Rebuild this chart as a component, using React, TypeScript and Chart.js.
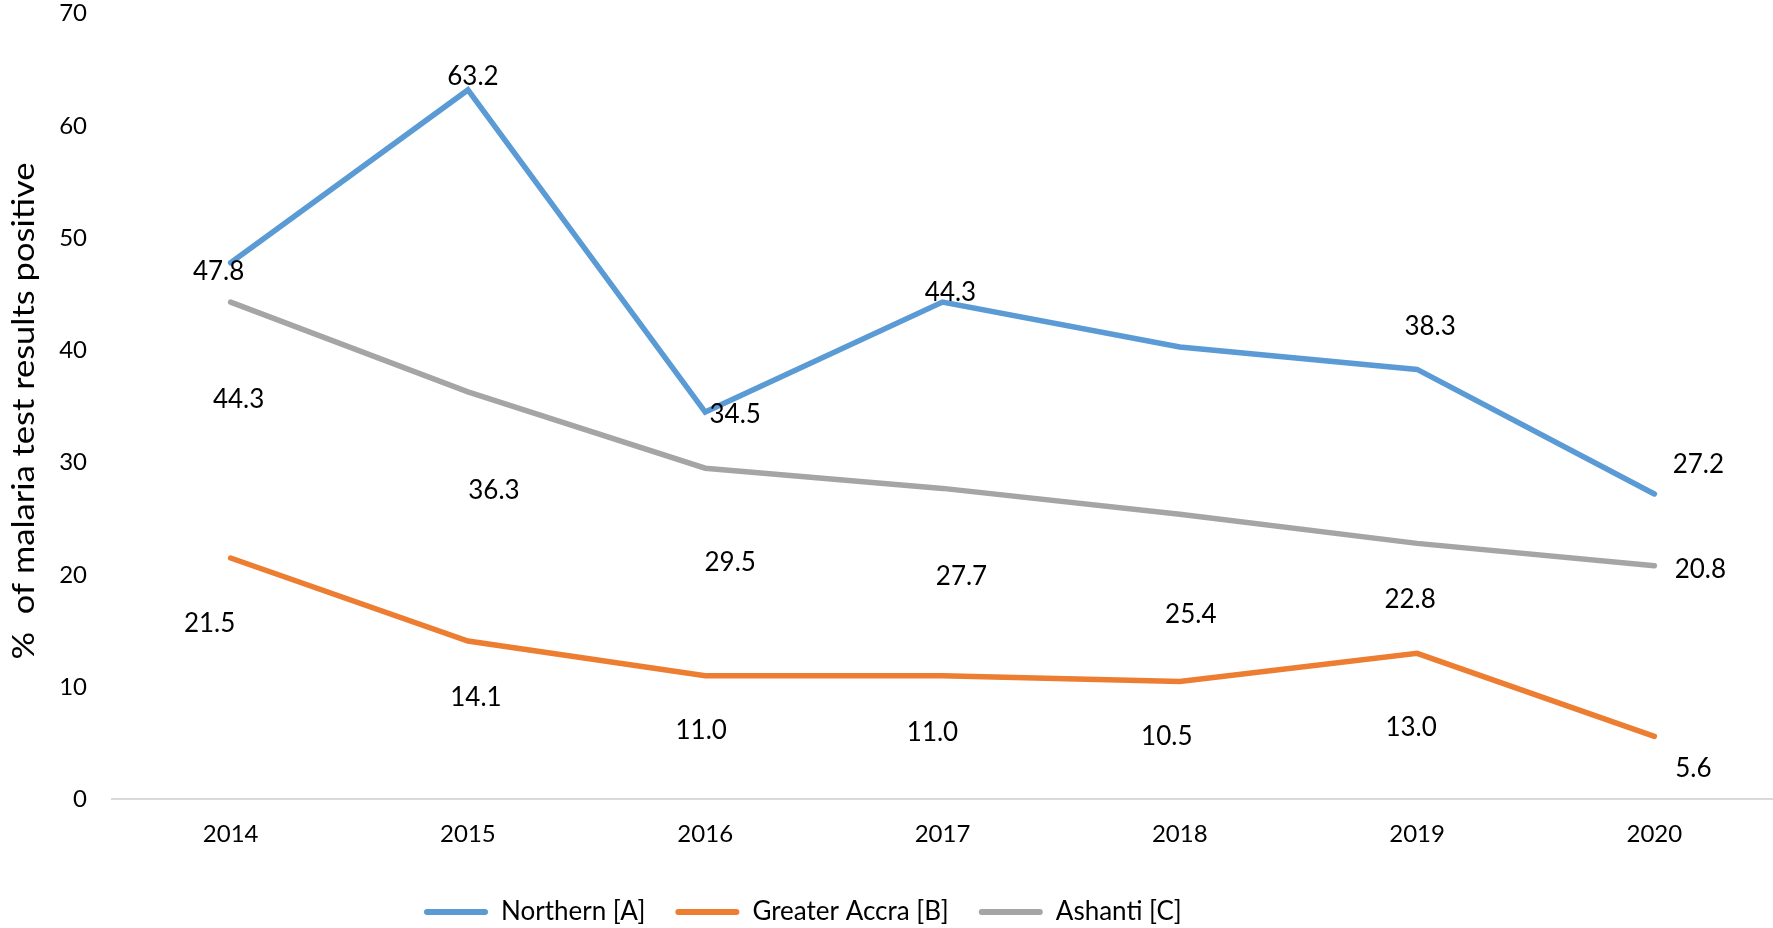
import React, { useEffect, useRef } from "react";
import { Chart, registerables } from "chart.js";

Chart.register(...registerables);

const years = ["2014", "2015", "2016", "2017", "2018", "2019", "2020"];
const northern = [47.8, 63.2, 34.5, 44.3, 40.3, 38.3, 27.2];
const greaterAccra = [21.5, 14.1, 11.0, 11.0, 10.5, 13.0, 5.6];
const ashanti = [44.3, 36.3, 29.5, 27.7, 25.4, 22.8, 20.8];
const seriesNames = ["Northern [A]", "Greater Accra [B]", "Ashanti [C]"];
const seriesColors = ["#5B9BD5", "#ED7D31", "#A5A5A5"];
const yTitle = "%  of malaria test results positive";

// label offsets (px) relative to each point; null = no label
const northernLabelOffsets: ([number, number] | null)[] = [
  [-12, 9], [5, -13], [30, 3], [8, -9], null, [13, -43], [44, -29],
];
const accraLabelOffsets: ([number, number] | null)[] = [
  [-21, 66], [8, 57], [-4, 55], [-10, 57], [-13, 55], [-6, 74], [39, 32],
];
const ashantiLabelOffsets: ([number, number] | null)[] = [
  [8, 98], [26, 99], [25, 94], [19, 88], [11, 100], [-7, 56], [46, 4],
];
const labelOffsets = [northernLabelOffsets, accraLabelOffsets, ashantiLabelOffsets];

const FONT = "Lato, 'Open Sans', sans-serif";

const dataLabelPlugin = {
  id: "dataLabels",
  afterDatasetsDraw(chart: any) {
    const ctx = chart.ctx;
    ctx.save();
    ctx.font = `26px ${FONT}`;
    ctx.fillStyle = "#000";
    ctx.textAlign = "center";
    ctx.textBaseline = "middle";
    chart.data.datasets.forEach((ds: any, di: number) => {
      const meta = chart.getDatasetMeta(di);
      meta.data.forEach((pt: any, i: number) => {
        const off = labelOffsets[di][i];
        if (!off) return;
        const v = ds.data[i] as number;
        ctx.fillText(v.toFixed(1), pt.x + off[0], pt.y + off[1]);
      });
    });
    ctx.restore();
  },
};

const titleLegendPlugin = {
  id: "titleLegend",
  afterDraw(chart: any) {
    const ctx = chart.ctx;
    // y-axis title, fitted to its length
    ctx.save();
    ctx.font = `31px ${FONT}`;
    ctx.fillStyle = "#000";
    ctx.textAlign = "center";
    ctx.textBaseline = "middle";
    const w = ctx.measureText(yTitle).width;
    const target = 497;
    ctx.translate(24, 411);
    ctx.rotate(-Math.PI / 2);
    ctx.scale(target / w, 1);
    ctx.fillText(yTitle, 0, 0);
    ctx.restore();

    // legend
    ctx.save();
    ctx.font = `26px ${FONT}`;
    ctx.textBaseline = "middle";
    ctx.textAlign = "left";
    let x = 424;
    const y = 912;
    seriesNames.forEach((name, i) => {
      ctx.strokeStyle = seriesColors[i];
      ctx.lineWidth = 6;
      ctx.lineCap = "round";
      ctx.beginPath();
      ctx.moveTo(x + 3, y);
      ctx.lineTo(x + 61, y);
      ctx.stroke();
      x += 77;
      ctx.fillStyle = "#000";
      ctx.fillText(name, x, y);
      x += ctx.measureText(name).width + 30;
    });
    ctx.restore();
  },
};

export default function App() {
  const ref = useRef<HTMLCanvasElement | null>(null);

  useEffect(() => {
    document.body.style.margin = "0";
    document.body.style.overflow = "hidden";
    const canvas = ref.current;
    if (!canvas) return;
    const series = [northern, greaterAccra, ashanti];
    const chart = new Chart(canvas, {
      type: "line",
      data: {
        labels: years,
        datasets: series.map((d, i) => ({
          label: seriesNames[i],
          data: d,
          borderColor: seriesColors[i],
          backgroundColor: seriesColors[i],
          borderWidth: 5.5,
          borderCapStyle: "round" as const,
          borderJoinStyle: "miter" as const,
          pointRadius: 0,
          tension: 0,
          fill: false,
        })),
      },
      options: {
        responsive: false,
        animation: false,
        devicePixelRatio: 1,
        layout: { padding: { top: 13.6, left: 0, right: 0, bottom: 78.7 } },
        plugins: {
          legend: { display: false },
          tooltip: { enabled: false },
        },
        scales: {
          x: {
            offset: true,
            grid: { display: false, drawTicks: false },
            border: { display: true, color: "#D9D9D9", width: 2 },
            ticks: {
              color: "#000",
              font: { family: FONT, size: 24 },
              padding: 21,
              maxRotation: 0,
            },
            afterFit(scale: any) {
              scale.height = 50;
              scale.paddingLeft = 0;
              scale.paddingRight = 0;
            },
          },
          y: {
            min: 0,
            max: 70,
            grid: { display: false, drawTicks: false },
            border: { display: false },
            ticks: {
              stepSize: 10,
              color: "#000",
              font: { family: FONT, size: 24 },
              padding: 25,
            },
            afterFit(scale: any) {
              scale.width = 112;
              scale.paddingTop = 0;
              scale.paddingBottom = 0;
            },
          },
        },
      },
      plugins: [dataLabelPlugin, titleLegendPlugin],
    });
    return () => chart.destroy();
  }, []);

  return (
    <canvas
      ref={ref}
      width={1773}
      height={928}
      style={{ display: "block", width: "1773px", height: "928px" }}
    />
  );
}
